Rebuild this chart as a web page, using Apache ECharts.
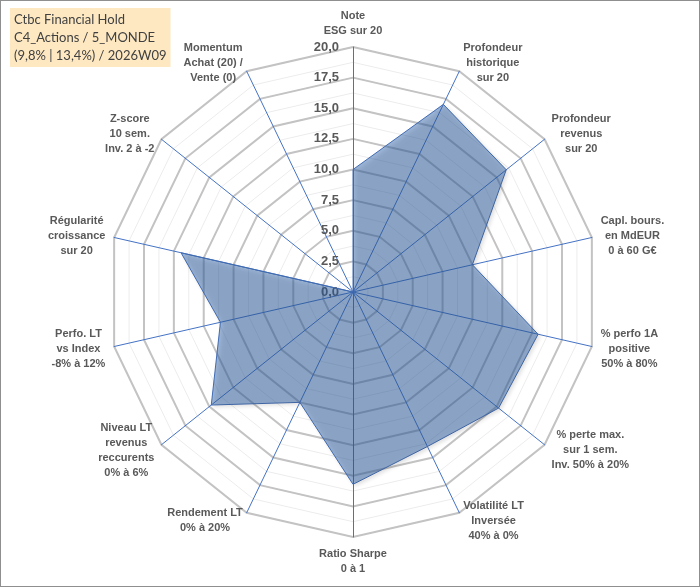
<!DOCTYPE html>
<html>
<head>
<meta charset="utf-8">
<script src="https://cdn.jsdelivr.net/npm/echarts@6/dist/echarts.min.js"></script>
<style>
	html, body { margin: 0; padding: 0; background: #fff; }
	#chart { width: 700px; height: 587px; box-sizing: border-box; border: 1px solid #8f8f8f; }
</style>
</head>
<body>
<div id="chart"></div>
<script>
// axes, clockwise from the top (as in the picture)
var categories = [
	'Note\nESG sur 20',
	'Profondeur\nhistorique\nsur 20',
	'Profondeur\nrevenus\nsur 20',
	'Capl. bours.\nen MdEUR\n0 à 60 G€',
	'% perfo 1A\npositive\n50% à 80%',
	'% perte max.\nsur 1 sem.\nInv. 50% à 20%',
	'Volatilité LT\nInversée\n40% à 0%',
	'Ratio Sharpe\n0 à 1',
	'Rendement LT\n0% à 20%',
	'Niveau LT\nrevenus\nreccurents\n0% à 6%',
	'Perfo. LT\nvs Index\n-8% à 12%',
	'Régularité\ncroissance\nsur 20',
	'Z-score\n10 sem.\nInv. 2 à -2',
	'Momentum\nAchat (20) /\nVente (0)'
];
var scores = [10, 17, 16, 10, 15.5, 15.2, 14, 15.7, 10, 14.8, 11.1, 14.4, 0, 0];
var axisMax = 20;
var titleLines = ['Ctbc Financial Hold', 'C4_Actions / 5_MONDE', '(9,8% | 13,4%) / 2026W09'];

// echarts radar turns counter-clockwise: keep the first axis, reverse the rest
function toCcw(arr) {
	return [arr[0]].concat(arr.slice(1).reverse());
}

var names = toCcw(categories);
var values = toCcw(scores);

var center = [352, 291];
var radius = 245;

function indicators(withLabel) {
	return names.map(function (n, i) {
		var ind = { name: n, min: 0, max: axisMax };
		if (withLabel && i === 0) {
			ind.axisLabel = {
				show: true,
				margin: 14,
				color: '#595959',
				fontSize: 13,
				fontWeight: 'bold',
				fontFamily: 'Liberation Sans',
				formatter: function (v) { return v.toFixed(1).replace('.', ','); }
			};
		}
		return ind;
	});
}

var chart = echarts.init(document.getElementById('chart'));

var option = {
	animation: false,
	title: {
		text: titleLines.join('\n'),
		left: 9,
		top: 7,
		padding: [3, 4, 2, 4],
		backgroundColor: '#fde8c2',
		textStyle: {
			fontFamily: 'Lato',
			fontWeight: 'normal',
			fontSize: 13,
			lineHeight: 18,
			color: '#404040'
		}
	},
	radar: [
		// light rings every 1,25
		{
			center: center,
			radius: radius,
			shape: 'polygon',
			splitNumber: 16,
			indicator: indicators(false),
			axisName: { show: false },
			axisLine: { show: false },
			axisTick: { show: false },
			axisLabel: { show: false },
			splitArea: { show: false },
			splitLine: { lineStyle: { color: '#ececec', width: 1 } }
		},
		// grey rings every 2,5
		{
			center: center,
			radius: radius,
			shape: 'polygon',
			splitNumber: 8,
			indicator: indicators(false),
			axisName: { show: false },
			axisLine: { show: false },
			axisTick: { show: false },
			axisLabel: { show: false },
			splitArea: { show: false },
			splitLine: { lineStyle: { color: '#c3c3c3', width: 2 } }
		},
		// blue spokes, names, tick labels
		{
			center: center,
			radius: radius,
			shape: 'polygon',
			splitNumber: 8,
			indicator: indicators(true),
			axisNameGap: 9,
			axisName: {
				color: '#595959',
				fontSize: 11,
				fontWeight: 'bold',
				fontFamily: 'Liberation Sans',
				lineHeight: 15,
				formatter: function (name) {
					return name.split('\n').map(function (l) { return '{c|' + l + '}'; }).join('\n');
				},
				rich: {
					c: {
						align: 'center',
						color: '#595959',
						fontSize: 11,
						fontWeight: 'bold',
						fontFamily: 'Liberation Sans',
						lineHeight: 15
					}
				}
			},
			axisLine: { lineStyle: { color: '#4472c4', width: 1 } },
			axisTick: { show: false },
			axisLabel: { show: false },
			splitArea: { show: false },
			splitLine: { show: false }
		}
	],
	series: [
		{
			type: 'radar',
			radarIndex: 2,
			symbol: 'none',
			lineStyle: { color: '#4a72b8', width: 1 },
			areaStyle: {
				color: 'rgba(47,98,168,0.67)',
				shadowBlur: 4,
				shadowColor: 'rgba(0,0,0,0.3)',
				shadowOffsetX: 2,
				shadowOffsetY: 2
			},
			data: [{ value: values, name: titleLines[0] }]
		}
	]
};

chart.setOption(option);
</script>
</body>
</html>
